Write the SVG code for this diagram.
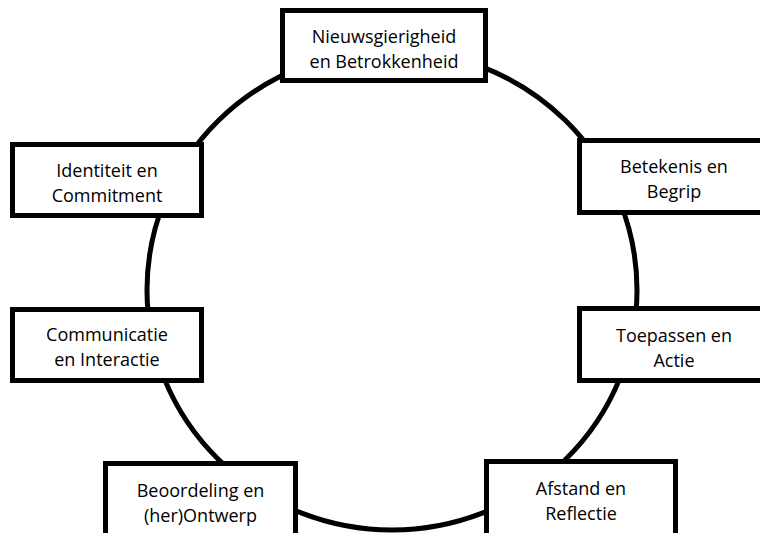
<svg xmlns="http://www.w3.org/2000/svg" width="760" height="533" viewBox="0 0 760 533">
<style>
.box{fill:#fff;stroke:#000;stroke-width:5}
.ring{fill:none;stroke:#000;stroke-width:5}
text{font-family:"Open Sans","Liberation Sans",sans-serif;font-size:18px;fill:#000;text-anchor:middle}
</style>
<rect width="760" height="533" fill="#fff"/>
<g id="connectors">
<ellipse class="ring" cx="392" cy="290" rx="245" ry="240"/>
</g>
<g id="n1"><rect class="box" x="282.5" y="10.5" width="203" height="70"/><text x="384" y="43">Nieuwsgierigheid</text><text x="384" y="68">en Betrokkenheid</text></g>
<g id="n2"><rect class="box" x="579.5" y="140.5" width="189" height="72"/><text x="674" y="173">Betekenis en</text><text x="674" y="198">Begrip</text></g>
<g id="n3"><rect class="box" x="579.5" y="308.5" width="189" height="72"/><text x="674" y="342">Toepassen en</text><text x="674" y="367">Actie</text></g>
<g id="n4"><rect class="box" x="486.5" y="461.5" width="189" height="80"/><text x="581" y="495">Afstand en</text><text x="581" y="520">Reflectie</text></g>
<g id="n5"><rect class="box" x="105.5" y="463.5" width="190" height="80"/><text x="200.5" y="497">Beoordeling en</text><text x="200.5" y="522">(her)Ontwerp</text></g>
<g id="n6"><rect class="box" x="12.5" y="309.5" width="189" height="71"/><text x="107" y="341">Communicatie</text><text x="107" y="366">en Interactie</text></g>
<g id="n7"><rect class="box" x="12.5" y="144.5" width="189" height="71"/><text x="107" y="177">Identiteit en</text><text x="107" y="202">Commitment</text></g>
</svg>
